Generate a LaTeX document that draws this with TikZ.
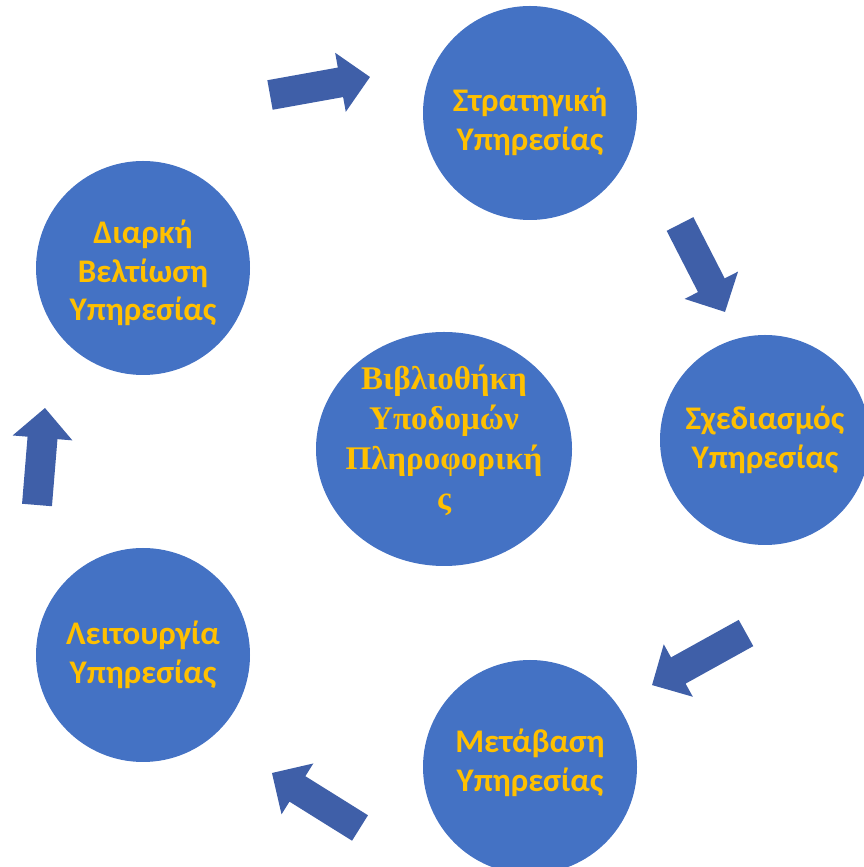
\documentclass[tikz,border=0pt]{standalone}
\usepackage{fontspec}
\setmainfont{Carlito}
\newfontfamily\serifgr{Liberation Serif}
\usetikzlibrary{shapes.geometric}
\definecolor{circblue}{HTML}{4472C4}
\definecolor{arrblue}{HTML}{3F5FA8}
\definecolor{gold}{HTML}{FFC000}
\tikzset{
  stage/.style={circle, fill=circblue, draw=none, inner sep=0pt},
  stagetext/.style={align=center, text=gold, inner sep=0pt,
    font=\bfseries\fontsize{33}{38.5}\selectfont},
  pics/barrow/.style={code={
    \fill[arrblue] (0,-15) -- ({#1-30},-15) -- ({#1-30},-30) -- (#1,0)
      -- ({#1-30},30) -- ({#1-30},15) -- (0,15) -- cycle;}}
}
\begin{document}
\begin{tikzpicture}[x=1pt,y=1pt]
\useasboundingbox (0,0) rectangle (864,867);
% circles
\node[stage, minimum size=214pt] (strat) at (530,754) {};
\node[stage, minimum size=210pt] (sched) at (765,427) {};
\node[stage, minimum size=214pt] (metab) at (530,100) {};
\node[stage, minimum size=214pt] (leit) at (143,212) {};
\node[stage, minimum size=214pt] (diark) at (143,599) {};
\node[ellipse, fill=circblue, draw=none, inner sep=0pt, minimum width=256pt,
  minimum height=234pt] (lib) at (444,418) {};
% texts
\node[stagetext] (stratT) at ([yshift=-9pt]strat.center) {Στρατηγική\\Υπηρεσίας};
\node[stagetext] (schedT) at (sched.center) {Σχεδιασμός\\Υπηρεσίας};
\node[stagetext] (metabT) at ([yshift=4pt]metab.center) {Μετάβαση\\Υπηρεσίας};
\node[stagetext] (leitT) at (leit.center) {Λειτουργία\\Υπηρεσίας};
\node[stagetext] (diarkT) at ([yshift=-5pt]diark.center) {Διαρκή\\Βελτίωση\\Υπηρεσίας};
\node[align=center, text=gold, inner sep=0pt,
  font=\serifgr\bfseries\fontsize{33}{40}\selectfont] (libT) at ([yshift=9pt]lib.center)
  {Βιβλιοθήκη\\Υποδομών\\Πληροφορική\\ς};
% block arrows
\pic[rotate=10.2] at (270,772) {barrow=101.6};
\pic[rotate=-62.9] at (680,643) {barrow=98.8};
\pic[rotate=-151] at (746,234) {barrow=107.4};
\pic[rotate=148] at (360,39) {barrow=103.8};
\pic[rotate=85.3] at (37,362) {barrow=97.3};
\end{tikzpicture}
\end{document}
